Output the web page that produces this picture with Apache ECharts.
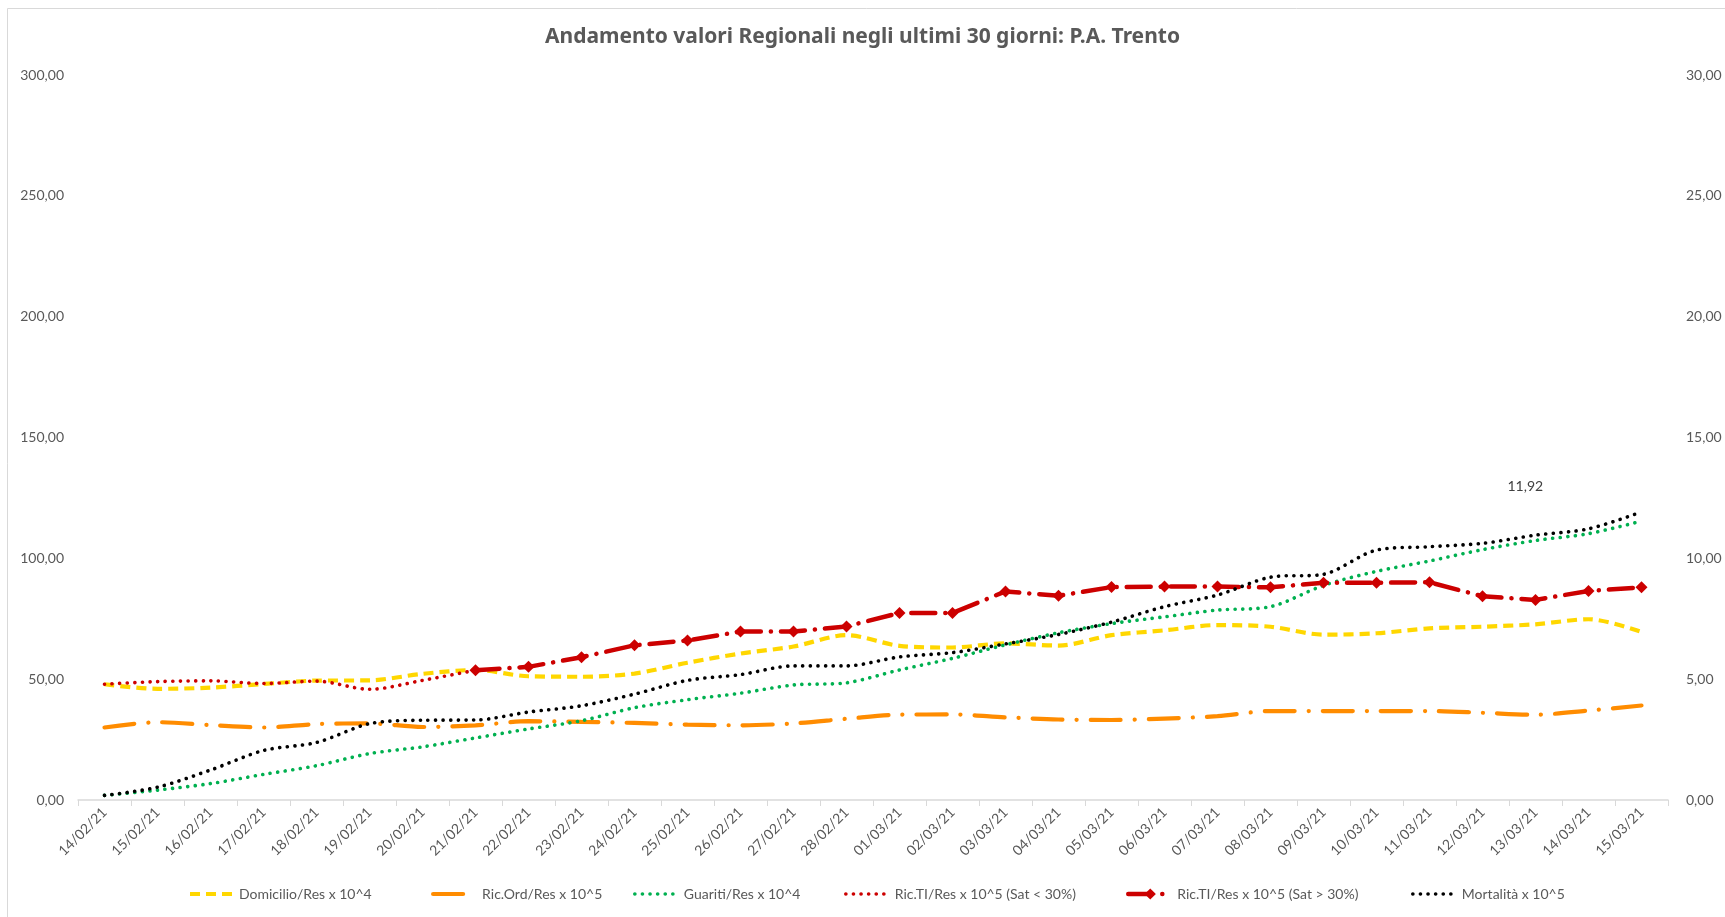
<!DOCTYPE html>
<html>
<head>
<meta charset="utf-8">
<title>Andamento valori Regionali negli ultimi 30 giorni: P.A. Trento</title>
<script src="https://cdn.jsdelivr.net/npm/echarts@6/dist/echarts.min.js"></script>
<style>
  html, body { margin: 0; padding: 0; background: #ffffff; }
  #chart { width: 1725px; height: 917px; }
</style>
</head>
<body>
<div id="chart"></div>
<script>
// Date labels for the last 30 days
const days = [
  '14/02/21', '15/02/21', '16/02/21', '17/02/21', '18/02/21', '19/02/21', '20/02/21',
  '21/02/21', '22/02/21', '23/02/21', '24/02/21', '25/02/21', '26/02/21', '27/02/21',
  '28/02/21', '01/03/21', '02/03/21', '03/03/21', '04/03/21', '05/03/21', '06/03/21',
  '07/03/21', '08/03/21', '09/03/21', '10/03/21', '11/03/21', '12/03/21', '13/03/21',
  '14/03/21', '15/03/21'
];

// Left axis series
const domicilio = [47.9, 46.0, 46.5, 48.0, 49.4, 49.5, 52.2, 53.8, 51.2, 51.0,
  52.3, 56.8, 60.6, 63.5, 68.2, 63.8, 63.1, 64.8, 63.9, 68.2,
  70.2, 72.4, 71.7, 68.4, 69.0, 71.0, 71.7, 72.7, 74.8, 69.6];

const ricOrd = [30.0, 32.2, 31.0, 30.0, 31.4, 31.7, 30.2, 30.9, 32.6, 32.3,
  31.9, 31.2, 30.9, 31.7, 33.6, 35.3, 35.4, 34.2, 33.3, 33.1,
  33.7, 34.7, 36.8, 36.8, 36.8, 36.8, 36.1, 35.3, 37.0, 39.1];

const guariti = [1.9, 4.1, 6.8, 10.6, 14.2, 19.2, 22.0, 25.7, 29.4, 32.8,
  38.2, 41.5, 44.2, 47.6, 48.5, 53.8, 58.6, 64.2, 69.2, 73.0,
  75.8, 78.6, 80.0, 88.8, 94.6, 98.9, 103.6, 107.4, 110.2, 115.4];

// Intensive care: low-saturation stretch, then high-saturation stretch
const ricTiLow = [47.9, 49.0, 49.3, 48.2, 49.2, 45.8, 49.5, 53.7, null, null,
  null, null, null, null, null, null, null, null, null, null,
  null, null, null, null, null, null, null, null, null, null];

const ricTiHigh = [null, null, null, null, null, null, null, 53.7, 55.1, 59.1,
  64.0, 66.0, 69.7, 69.7, 71.8, 77.4, 77.4, 86.3, 84.5, 88.1,
  88.3, 88.3, 88.0, 89.9, 89.9, 90.1, 84.3, 82.8, 86.5, 88.0];

// Right axis series
const mortalita = [0.19, 0.53, 1.24, 2.05, 2.38, 3.16, 3.30, 3.31, 3.64, 3.90,
  4.38, 4.95, 5.19, 5.55, 5.55, 5.92, 6.10, 6.46, 6.85, 7.36,
  8.00, 8.48, 9.22, 9.34, 10.34, 10.48, 10.62, 10.96, 11.22, 11.92];

// Tick ranges; labels use a decimal comma
const leftTicks = { min: 0, max: 300, step: 50 };
const rightTicks = { min: 0, max: 30, step: 5 };

const FONT = 'Lato, "Open Sans", sans-serif';
const TITLE_FONT = '"Noto Sans", Lato, sans-serif';
const GREY = '#595959';
const fmt = v => Number(v).toFixed(2).replace('.', ',');

const names = [
  'Domicilio/Res x 10^4',
  'Ric.Ord/Res x 10^5',
  'Guariti/Res x 10^4',
  'Ric.TI/Res x 10^5 (Sat < 30%)',
  'Ric.TI/Res x 10^5 (Sat > 30%)',
  'Mortalità x 10^5'
];

const YELLOW = '#FFD700';
const ORANGE = '#FF8C00';
const GREEN = '#00B050';
const RED = '#CC0000';
const BLACK = '#000000';

const dotted = [0.1, 7.5];

function plainLine(name, data, color, width, dash, cap, yIndex) {
  return {
    name: name,
    type: 'line',
    data: data,
    yAxisIndex: yIndex || 0,
    smooth: 0.3,
    symbol: 'none',
    connectNulls: false,
    lineStyle: { color: color, width: width, type: dash, cap: cap },
    itemStyle: { color: color },
    emphasis: { disabled: true }
  };
}

const series = [
  plainLine(names[0], domicilio, YELLOW, 4.2, [10, 6], 'butt'),
  plainLine(names[1], ricOrd, ORANGE, 4.2, [30, 14, 0.1, 14], 'round'),
  plainLine(names[2], guariti, GREEN, 3.6, dotted, 'round'),
  plainLine(names[3], ricTiLow, RED, 3.6, dotted, 'round'),
  {
    name: names[4],
    type: 'line',
    data: ricTiHigh,
    smooth: false,
    symbol: 'diamond',
    symbolSize: 12,
    showSymbol: true,
    lineStyle: { color: RED, width: 4.5, type: [24, 10, 0.1, 10], cap: 'round' },
    itemStyle: { color: RED },
    emphasis: { disabled: true }
  },
  Object.assign(plainLine(names[5], mortalita, BLACK, 3.6, dotted, 'round', 1), {
    endLabel: {
      show: true,
      formatter: p => fmt(p.value),
      color: '#404040',
      fontFamily: FONT,
      fontSize: 14,
      offset: [-142, -25]
    }
  })
];

// One legend block per series so each entry sits at its own spot
const legendLefts = [183, 426, 628, 839, 1121, 1406];
const legendWidths = [4, 4.2, 3.6, 3.6, 4.5, 3.6];
const legends = names.map((n, i) => ({
  left: legendLefts[i],
  top: 882,
  itemWidth: 44,
  itemHeight: 14,
  itemGap: 0,
  selectedMode: false,
  textStyle: { color: GREY, fontFamily: FONT, fontSize: 14 },
  lineStyle: { width: legendWidths[i] },
  data: [i === 4 ? { name: n } : { name: n, itemStyle: { opacity: 0 } }]
}));

const chart = echarts.init(document.getElementById('chart'), null, { renderer: 'canvas' });

chart.setOption({
  backgroundColor: '#ffffff',
  animation: false,
  title: {
    text: 'Andamento valori Regionali negli ultimi 30 giorni: P.A. Trento',
    left: 'center',
    top: 22,
    textStyle: { color: GREY, fontFamily: TITLE_FONT, fontSize: 21, fontWeight: 'bold' }
  },
  graphic: [{
    type: 'rect',
    shape: { x: 7.5, y: 8.5, width: 2000, height: 2000 },
    style: { fill: 'none', stroke: '#d9d9d9', lineWidth: 1 },
    silent: true,
    z: -1
  }],
  legend: legends,
  grid: { left: 78, right: 57, top: 75, bottom: 117, containLabel: false },
  xAxis: {
    type: 'category',
    data: days,
    boundaryGap: true,
    axisLine: { show: true, lineStyle: { color: '#d9d9d9', width: 1.5 } },
    axisTick: { show: true, length: 6, lineStyle: { color: '#d9d9d9' } },
    axisLabel: { rotate: 45, color: GREY, fontFamily: FONT, fontSize: 14, margin: 10, interval: 0 },
    splitLine: { show: false }
  },
  yAxis: [
    {
      type: 'value',
      min: leftTicks.min, max: leftTicks.max, interval: leftTicks.step,
      axisLine: { show: false }, axisTick: { show: false }, splitLine: { show: false },
      axisLabel: { color: GREY, fontFamily: FONT, fontSize: 14, margin: 14, formatter: fmt }
    },
    {
      type: 'value',
      min: rightTicks.min, max: rightTicks.max, interval: rightTicks.step,
      axisLine: { show: false }, axisTick: { show: false }, splitLine: { show: false },
      axisLabel: { color: GREY, fontFamily: FONT, fontSize: 14, margin: 18, formatter: fmt }
    }
  ],
  series: series
});
</script>
</body>
</html>
